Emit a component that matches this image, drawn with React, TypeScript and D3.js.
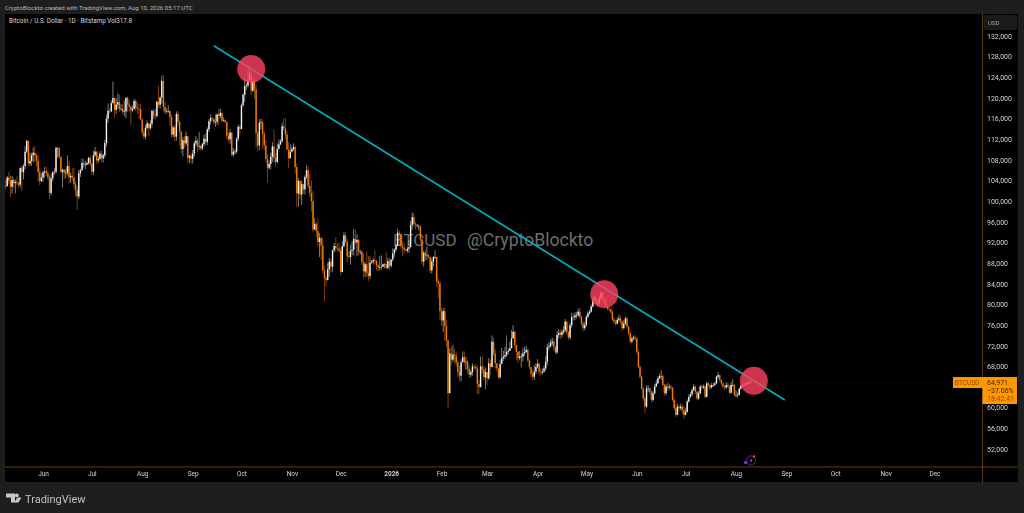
import * as d3 from "d3";
import React, { useEffect, useRef } from "react";

// daily bars, one row per month, prices in thousands of USD
const monthStarts = [
  "2025-05-09", "2025-06-01", "2025-07-01", "2025-08-01", "2025-09-01", "2025-10-01", "2025-11-01", "2025-12-01",
  "2026-01-01", "2026-02-01", "2026-03-01", "2026-04-01", "2026-05-01", "2026-06-01", "2026-07-01", "2026-08-01",
];

const closes = [
  [102.9,104.6,104.0,102.8,104.1,103.5,103.7,103.5,103.2,106.4,105.6,106.8,109.6,111.7,107.3,107.8,108.9,109.4,108.9,107.8,105.6,103.9,104.6],
  [105.6,105.8,105.4,104.7,101.6,104.4,105.6,105.7,110.3,110.3,108.6,105.7,106.1,105.5,105.5,106.8,104.6,104.9,104.6,103.3,102.1,100.9,105.4,106.0,107.4,107.1,107.1,107.4,108.4,107.2],
  [105.7,108.9,109.6,107.9,108.2,109.2,108.3,108.9,111.3,116.0,117.5,117.4,119.0,120.0,117.7,118.7,119.2,117.9,117.9,117.3,117.4,120.0,118.7,118.3,117.6,117.9,119.4,118.0,117.9,117.8,115.8],
  [113.3,112.5,114.2,115.1,114.1,115.0,117.5,116.6,116.5,119.3,118.7,120.1,123.3,118.3,117.4,117.4,117.5,116.3,112.9,114.3,112.5,116.9,115.4,113.5,110.1,111.8,111.2,112.6,108.4,108.8,108.2],
  [109.2,111.2,111.7,110.7,110.7,110.2,111.1,112.1,111.5,113.9,115.5,116.1,115.9,115.3,115.4,116.8,116.5,117.1,115.6,115.7,115.3,112.7,112.0,113.3,109.0,109.6,109.6,112.1,114.4,114.0],
  [118.6,120.6,122.3,122.4,123.5,124.8,121.4,123.3,121.7,113.2,110.8,115.2,115.3,113.0,110.8,108.2,106.5,107.2,108.6,110.6,108.4,107.6,110.1,111.0,111.6,114.5,114.1,112.9,110.0,108.3,109.6],
  [110.1,110.5,106.6,101.5,103.9,101.3,103.3,102.3,104.7,106.0,103.0,101.6,100.0,94.5,95.6,94.2,92.1,92.9,91.4,86.6,85.1,84.7,86.8,88.3,87.3,90.5,91.3,90.9,90.8,90.4],
  [86.3,91.3,93.4,92.1,89.3,89.2,90.4,90.6,92.7,92.0,92.5,90.2,90.2,88.2,86.4,87.8,86.1,85.5,88.1,88.3,88.6,88.5,87.6,87.2,87.2,87.3,87.8,87.8,87.1,88.4,87.5],
  [88.7,89.9,90.6,91.4,93.9,93.7,91.3,91.0,90.6,90.4,90.8,91.1,95.4,96.9,95.6,95.5,95.1,95.1,92.6,88.3,90.0,89.5,89.5,89.2,86.6,88.3,89.2,89.2,84.5,84.1,78.7],
  [76.9,78.7,75.8,73.0,62.8,70.5,69.3,70.3,70.1,68.8,66.9,66.2,68.8,69.8,68.8,68.9,67.5,66.4,66.9,68.0,67.9,67.6,64.6,64.0,68.0,67.4,65.9,66.9],
  [65.7,68.6,67.9,72.8,70.5,68.6,67.6,65.9,68.5,69.6,69.9,70.2,70.8,71.0,71.5,73.4,74.7,72.1,70.8,69.6,69.9,69.9,70.5,70.8,71.2,69.2,67.9,66.6,66.0,67.0,67.9],
  [68.5,67.0,66.8,67.0,67.6,68.9,71.7,71.9,72.5,72.8,71.8,70.7,74.1,74.5,74.1,74.7,75.0,76.7,74.7,73.6,76.0,77.6,77.5,77.9,77.9,78.6,77.6,76.3,75.4,76.0],
  [77.6,78.3,78.6,79.6,81.0,81.4,80.2,80.2,81.2,82.2,81.2,80.5,79.6,79.2,79.1,78.6,77.1,76.7,76.3,77.0,77.3,76.7,75.4,76.3,77.3,75.7,74.4,72.8,73.4,73.6,73.4],
  [70.8,67.9,66.0,63.7,61.8,60.2,63.7,63.7,63.1,61.5,62.8,64.1,64.7,65.7,66.1,66.1,64.4,62.8,64.1,63.9,64.1,63.9,61.5,59.9,58.6,60.2,59.9,60.2,59.5,58.6],
  [59.2,61.2,62.1,62.6,63.4,64.1,63.1,61.8,62.8,64.1,63.9,64.1,62.1,64.7,64.4,63.9,64.4,64.4,64.7,66.0,66.3,65.4,64.7,64.1,63.9,64.4,64.1,62.9,64.4,64.4,62.5],
  [62.5,62.5,63.7,64.2,64.4,64.4,64.7,64.7,64.8,64.971],
];

const highs = [
  [104.2,104.9,105.7,105.0,104.9,104.6,104.2,104.8,103.8,106.6,107.0,107.2,110.7,111.9,111.7,109.4,109.4,110.4,110.7,109.2,108.9,106.4,105.4],
  [105.9,106.6,106.8,106.0,105.0,105.4,105.9,106.4,110.6,110.5,110.4,108.5,106.2,106.2,106.2,108.9,107.8,105.5,106.4,106.5,103.9,103.0,106.1,106.3,108.3,108.2,107.8,107.6,108.6,108.8],
  [107.5,109.8,110.5,109.7,108.7,109.7,109.8,109.2,111.9,116.8,118.9,118.0,119.5,123.2,119.9,119.9,120.9,120.6,118.8,118.8,119.5,120.2,120.3,119.5,118.5,118.5,119.8,119.8,119.2,118.8,118.9],
  [116.0,114.0,114.8,115.7,115.1,115.7,117.7,117.9,117.9,119.3,122.3,120.3,124.3,124.5,119.3,118.0,118.6,117.6,116.8,114.6,114.8,117.4,117.4,115.6,113.6,112.4,112.6,113.5,112.6,109.0,109.4],
  [109.9,111.7,112.6,112.2,113.4,110.9,111.3,112.9,113.2,114.3,115.9,116.8,116.4,116.1,116.8,117.0,117.9,117.9,117.4,116.2,115.9,115.4,113.3,114.0,113.3,110.3,110.0,112.4,114.8,114.8],
  [118.9,120.9,123.9,122.9,125.5,126.3,125.1,124.0,123.7,122.6,113.6,115.9,116.0,115.8,113.6,111.8,109.2,107.9,109.4,111.4,113.9,109.3,111.2,112.0,112.0,115.2,116.1,116.0,113.6,111.5,111.0],
  [110.6,111.2,110.8,107.3,104.5,104.1,104.0,103.4,105.0,107.0,106.7,105.3,104.0,102.0,96.8,96.0,96.7,93.8,93.1,92.8,87.5,85.6,88.1,89.0,88.8,90.6,91.9,93.0,91.9,92.0],
  [91.0,92.3,94.1,94.0,92.7,90.3,91.6,92.3,94.6,94.5,93.6,92.7,90.6,90.5,90.0,88.2,90.3,89.4,89.3,88.6,89.0,90.5,88.0,87.9,89.4,89.5,87.9,88.0,90.2,89.1,89.0],
  [88.8,90.9,90.9,91.7,94.7,94.4,93.4,91.7,92.0,90.8,91.2,92.5,96.2,97.8,97.7,96.0,95.5,95.5,95.1,92.8,90.4,90.5,91.2,89.8,89.2,88.9,89.4,90.5,89.2,85.0,84.5],
  [79.3,79.4,79.3,76.9,73.2,71.5,71.8,72.2,71.4,70.9,69.2,68.2,69.4,70.9,70.9,69.9,69.3,68.3,67.3,68.6,68.4,68.4,68.2,65.4,69.9,70.0,68.2,67.8],
  [66.9,69.6,69.4,74.0,73.6,71.3,68.6,67.2,69.3,71.6,71.0,71.8,74.0,71.5,72.8,75.0,76.0,74.9,72.2,71.0,71.0,70.5,71.5,71.8,72.0,71.5,69.4,67.6,67.2,68.2,68.6],
  [69.4,68.8,67.6,67.6,68.2,70.0,72.4,72.7,73.2,73.6,73.4,71.9,74.8,75.2,75.0,75.2,75.8,77.2,76.5,74.8,76.5,78.4,78.3,78.5,78.6,79.2,79.4,77.8,76.8,76.6],
  [78.0,78.7,79.0,80.0,81.6,82.0,81.8,80.8,81.6,82.6,82.4,81.0,81.5,79.9,79.6,79.0,78.9,77.5,77.0,77.5,78.0,77.8,76.8,77.0,77.7,77.5,75.8,74.6,73.8,74.0,74.0],
  [73.6,71.2,68.2,66.2,64.0,62.2,64.3,64.4,64.0,63.4,63.2,64.6,65.4,66.1,66.6,67.2,66.4,64.6,64.6,64.9,64.6,64.4,64.0,61.9,60.6,60.8,60.6,60.8,60.6,60.4],
  [60.0,61.6,62.6,63.0,63.8,64.6,64.3,63.3,63.2,64.4,64.5,64.5,64.4,65.0,65.0,64.5,64.8,64.8,65.0,66.2,66.9,66.4,65.5,64.9,64.4,64.9,64.9,64.3,65.0,65.5,64.6],
  [63.4,63.0,63.9,64.5,64.8,64.9,65.1,65.2,65.4,65.6],
];

const lows = [
  [102.3,102.8,103.3,100.8,101.5,102.6,101.5,103.1,102.6,102.7,102.0,104.2,106.2,109.3,106.7,106.9,106.8,107.5,107.6,106.7,103.7,103.1,103.7],
  [103.7,104.5,104.9,104.1,100.4,101.1,103.9,105.1,105.3,108.4,108.2,105.4,102.7,104.3,104.5,105.0,103.4,103.5,103.9,102.5,100.9,98.3,100.4,104.7,105.9,106.5,106.2,106.9,107.1,106.8],
  [105.1,105.1,108.6,107.3,107.4,107.9,107.5,107.5,108.4,110.6,115.2,116.9,117.3,118.9,116.2,116.9,117.9,117.2,117.5,116.9,116.5,116.1,117.3,117.2,114.8,117.2,117.8,117.4,116.9,115.9,115.7],
  [112.7,112.0,112.0,113.9,112.6,113.9,114.3,115.9,115.8,116.2,118.1,117.9,118.9,117.2,116.8,117.0,117.1,114.7,112.3,112.4,111.6,111.7,114.6,110.8,109.3,108.7,110.4,110.8,107.4,107.4,107.3],
  [107.3,108.6,110.6,109.4,110.0,109.8,109.9,110.6,110.8,110.9,113.4,114.8,115.4,114.9,114.4,114.8,114.8,116.0,115.2,115.4,115.1,112.0,111.6,111.1,108.7,108.6,109.1,109.2,111.6,112.7],
  [113.9,118.3,119.2,121.6,122.0,123.9,120.6,121.1,119.9,110.4,109.6,109.9,113.9,110.1,109.9,107.5,103.6,106.1,106.2,107.6,107.4,106.7,107.3,110.2,110.9,111.4,113.7,112.0,109.9,106.4,108.3],
  [109.4,109.7,105.3,98.9,98.9,100.3,99.3,101.4,101.3,104.3,102.5,100.8,98.0,94.0,94.6,93.0,91.2,89.2,88.6,85.9,80.6,83.5,85.4,85.3,86.1,86.3,90.1,90.2,90.3,90.0],
  [85.6,86.2,91.0,91.8,88.2,88.9,87.7,89.5,89.5,91.6,89.3,89.5,89.7,87.6,85.2,85.3,85.4,84.5,84.9,87.9,87.7,87.9,86.6,86.4,86.6,86.7,87.3,87.0,86.8,86.8,86.7],
  [87.1,88.3,89.2,90.3,91.2,91.5,90.8,89.3,89.8,90.3,90.0,90.0,91.0,94.5,95.0,94.5,94.9,94.4,91.9,87.7,87.3,88.5,88.6,88.9,86.0,86.0,87.4,88.8,83.5,81.2,77.0],
  [75.8,74.7,72.9,71.8,60.0,62.9,68.3,68.9,68.5,68.0,65.9,65.2,65.1,68.8,68.2,67.3,66.6,65.7,65.9,66.2,67.5,67.2,62.6,62.6,63.9,66.6,65.3,63.5],
  [64.4,65.4,66.4,67.8,70.0,67.6,67.0,65.5,65.6,68.4,69.0,69.4,69.8,70.3,71.0,72.8,73.5,71.4,69.2,68.6,69.2,67.8,69.0,70.0,70.5,68.8,67.4,65.9,65.3,65.4,66.4],
  [67.6,66.4,66.2,66.4,66.8,67.2,68.2,71.2,71.6,72.0,71.0,70.3,70.4,73.5,73.3,73.6,74.2,74.5,74.2,73.2,73.2,75.5,76.8,77.0,77.3,77.6,77.2,75.9,74.8,75.0],
  [75.7,77.3,78.0,78.4,79.4,80.8,79.8,79.6,79.8,80.8,80.8,80.0,79.3,78.8,78.6,78.2,76.8,76.2,75.9,76.1,76.6,76.2,74.9,75.2,76.0,75.3,74.0,72.4,72.5,73.1,73.0],
  [70.4,67.6,65.6,63.4,61.3,59.0,60.0,63.0,62.4,61.0,61.2,62.5,64.0,64.5,65.5,65.4,64.2,62.4,62.4,63.2,63.5,63.4,61.2,59.5,58.2,58.6,59.3,59.5,58.8,57.8],
  [58.5,59.0,61.0,61.9,62.3,63.2,62.6,61.4,61.5,62.6,63.3,63.6,61.8,62.0,64.0,63.4,63.7,64.0,64.2,64.6,65.6,65.0,64.3,63.8,63.4,63.7,63.8,62.6,62.7,64.0,62.2],
  [62.0,61.9,62.3,63.4,64.0,64.1,64.3,64.4,64.5,64.7],
];

const firstOpen = 103.0;

// 64,000 sits behind the last price tag, so the scale does not show it
const priceTicks = [52, 56, 60, 68, 72, 76, 80, 84, 88, 92, 96, 100, 104, 108, 112, 116, 120, 124, 128, 132];
const timeTicks = [
  "2025-06-01", "2025-07-01", "2025-08-01", "2025-09-01", "2025-10-01", "2025-11-01", "2025-12-01", "2026-01-01",
  "2026-02-01", "2026-03-01", "2026-04-01", "2026-05-01", "2026-06-01", "2026-07-01", "2026-08-01", "2026-09-01",
  "2026-10-01", "2026-11-01", "2026-12-01",
];

// trend line and the three touch points, as [date, price]
const trendLine: [string, number][] = [["2025-09-14", 130.1], ["2026-08-31", 61.5]];
const touches: [string, number][] = [["2025-10-07", 125.6], ["2026-05-12", 82.0], ["2026-08-12", 65.2]];

const lastPrice = 64.971;
const lastLabels = ["64,971", "−37.06%", "18:42:41"];

const BG = "#1e1e1e";
const UP = "#f2f2f2";
const DOWN = "#f57c00";
const AXIS_LINE = "#7a4a08";
const ORANGE = "#ff9800";
const FONT = "Roboto, 'Noto Sans', sans-serif";

const date = (s: string) => new Date(s + "T00:00:00Z");

const x = d3.scaleUtc([date("2025-06-01"), date("2026-08-01")], [43, 736]);
const y = d3.scaleLinear([52, 132], [449, 36]);

const bars = monthStarts.flatMap((start, m) =>
  closes[m].map((close, i) => ({ day: d3.utcDay.offset(date(start), i), close, high: highs[m][i], low: lows[m][i], open: 0 })),
);
bars.forEach((b, i) => {
  b.open = i === 0 ? firstOpen : bars[i - 1].close;
});

const monthFmt = d3.utcFormat("%b");

const App = () => {
  const gx = useRef<SVGGElement>(null);
  const gy = useRef<SVGGElement>(null);

  useEffect(() => {
    const axisX = d3
      .axisBottom(x)
      .tickValues(timeTicks.map(date))
      .tickSize(0)
      .tickPadding(4)
      .tickFormat((d) => ((d as Date).getUTCMonth() === 0 ? String((d as Date).getUTCFullYear()) : monthFmt(d as Date)));
    const sx = d3.select(gx.current!).call(axisX as any);
    sx.select(".domain").remove();
    sx.selectAll("text")
      .attr("fill", "#d4d4d4")
      .style("font", `6.5px ${FONT}`)
      .style("font-weight", (d: any) => (d.getUTCMonth() === 0 ? "700" : "400"));

    const axisY = d3
      .axisRight(y)
      .tickValues(priceTicks)
      .tickSize(0)
      .tickPadding(4.5)
      .tickFormat((d) => d3.format(",")((d as number) * 1000));
    const sy = d3.select(gy.current!).call(axisY as any);
    sy.select(".domain").remove();
    sy.selectAll("text").attr("fill", "#d4d4d4").style("font", `7px ${FONT}`);
  }, []);

  const trendPts = trendLine.map(([d, p]) => [x(date(d)), y(p)] as [number, number]);
  const lastY = y(lastPrice);

  return (
    <svg
      width={1024}
      height={513}
      style={{ position: "absolute", left: 0, top: 0, background: BG, fontFamily: FONT }}
    >
      <defs>
        <filter id="soft" x="-2%" y="-2%" width="104%" height="104%">
          <feGaussianBlur stdDeviation="0.3" />
        </filter>
      </defs>

      <text x={5} y={9.5} fontSize={6.05} fill="#b8b8b8">
        CryptoBlockto created with TradingView.com, Aug 10, 2026 05:17 UTC
      </text>

      <rect x={5} y={14} width={1013} height={468} fill="#000" />

      <text x={9} y={22.5} fontSize={6.3} fill="#d8d8d8">
        Bitcoin / U.S. Dollar · 1D · Bitstamp{"  "}Vol317.8
      </text>

      <text x={393} y={246} fontSize={17} fill="#6e6e6e">
        BTCUSD
      </text>
      <text x={467} y={246} fontSize={17.6} fill="#6e6e6e">
        @CryptoBlockto
      </text>

      <line
        x1={x(bars[bars.length - 1].day)}
        x2={953}
        y1={lastY}
        y2={lastY}
        stroke={ORANGE}
        strokeWidth={0.5}
        strokeDasharray="1 2"
        opacity={0.3}
      />

      <g filter="url(#soft)">
        {bars.map((b, i) => {
          const cx = x(b.day);
          const color = b.close >= b.open ? UP : DOWN;
          const top = y(Math.max(b.open, b.close));
          const bottom = y(Math.min(b.open, b.close));
          return (
            <g key={i}>
              <line x1={cx} x2={cx} y1={y(b.high)} y2={y(b.low)} stroke={color} strokeWidth={0.7} opacity={0.75} />
              <rect x={cx - 0.7} y={top} width={1.4} height={Math.max(bottom - top, 0.6)} fill={color} />
            </g>
          );
        })}
      </g>

      <line
        x1={trendPts[0][0]}
        y1={trendPts[0][1]}
        x2={trendPts[1][0]}
        y2={trendPts[1][1]}
        stroke="#00acc1"
        strokeWidth={1.7}
      />

      {touches.map(([d, p], i) => (
        <circle key={i} cx={x(date(d))} cy={y(p)} r={14} fill="#ff4260" fillOpacity={0.8} />
      ))}

      {/* axis frame */}
      <line x1={5} x2={1018} y1={467} y2={467} stroke={AXIS_LINE} strokeWidth={0.8} />
      <line x1={982.5} x2={982.5} y1={14} y2={482} stroke={AXIS_LINE} strokeWidth={0.8} />
      <rect x={984} y={15.5} width={33} height={14} rx={2} fill="#1a1a1a" stroke="#2a2a2a" strokeWidth={0.5} />
      <text x={988} y={24.5} fontSize={6} fill="#a8a8a8">
        USD
      </text>

      <g ref={gx} transform="translate(0,467)" />
      <g ref={gy} transform="translate(982.5,0)" />

      {/* last price tag */}
      <rect x={953} y={lastY - 5} width={30} height={11} fill={ORANGE} />
      <text x={955} y={lastY + 2.5} fontSize={6.5} fill="#8a4a00">
        BTCUSD
      </text>
      <rect x={982.5} y={lastY - 5} width={34.5} height={27} fill={ORANGE} />
      {lastLabels.map((t, i) => (
        <text key={t} x={987} y={lastY + 2.5 + i * 8.4} fontSize={7} fill={i === 2 ? "#8a4a00" : "#3a2500"}>
          {t}
        </text>
      ))}

      {/* small event marker on the time axis */}
      <circle cx={751} cy={460.5} r={4.6} fill="none" stroke="#7b1fa2" strokeWidth={0.9} />
      <path d="M751.8 457.5 L749.8 461 L751.2 461 L750.4 463.6 L752.6 460 L751.2 460 Z" fill="#9c4dcc" />
      <circle cx={745.5} cy={462.5} r={1.5} fill="#5b4dff" />
      <circle cx={754} cy={456.5} r={1.2} fill="#f23645" />

      {/* TradingView mark */}
      <path d="M6 493.5 H15 V502.5 H11 V497.5 H6 Z" fill="#c8c8c8" />
      <circle cx={16.8} cy={495.4} r={1.9} fill="#c8c8c8" />
      <path d="M18.5 502.5 H14.3 L17.4 497.6 H21.4 Z" fill="#c8c8c8" />
      <text x={25} y={502.5} fontSize={11} fontWeight={400} fill="#c0c0c0">
        TradingView
      </text>
    </svg>
  );
};

export default App;
